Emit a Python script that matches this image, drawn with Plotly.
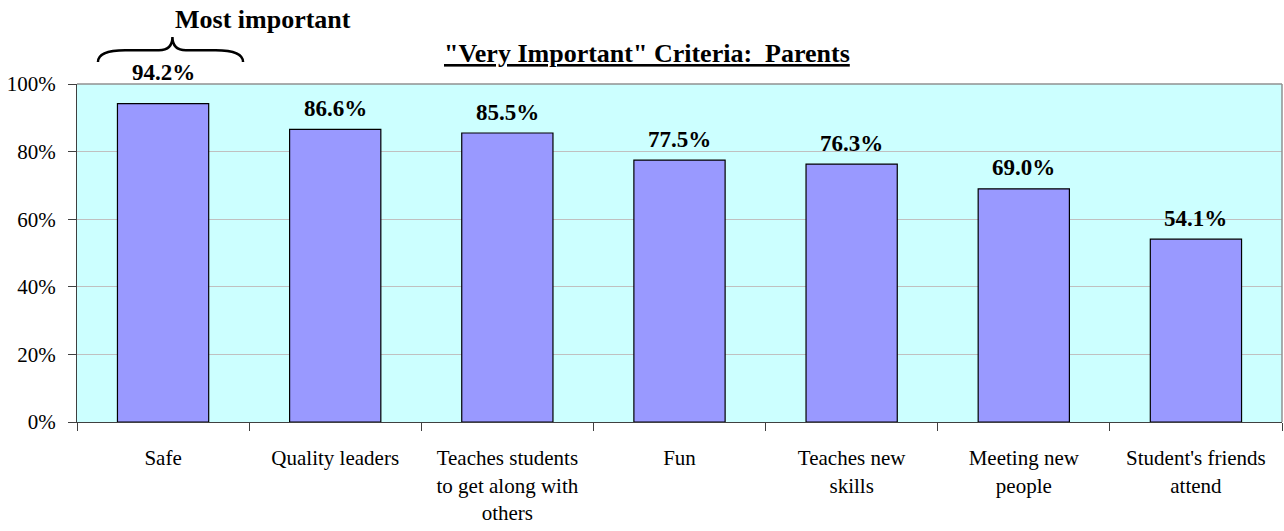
import plotly.graph_objects as go

categories = ["Safe", "Quality leaders", "Teaches students<br>to get along with<br>others", "Fun",
              "Teaches new<br>skills", "Meeting new<br>people", "Student's friends<br>attend"]
values = [94.2, 86.6, 85.5, 77.5, 76.3, 69.0, 54.1]
labels = [f"{v:.1f}%" for v in values]
ytick_vals = [0, 20, 40, 60, 80, 100]
ytick_text = ["0%", "20%", "40%", "60%", "80%", "100%"]

font = "Liberation Serif, Times New Roman, serif"

fig = go.Figure(go.Bar(
    x=categories, y=values,
    marker=dict(color="#9999FF", line=dict(color="black", width=1.2)),
    cliponaxis=False, width=0.53, hoverinfo="skip",
))

annotations = []
for i, (c, v, t) in enumerate(zip(categories, values, labels)):
    annotations.append(dict(
        x=c, y=v, text=f"<b>{t}</b>", showarrow=False, xref="x", yref="y",
        yanchor="middle", yshift=31 if i == 0 else 21,
        font=dict(size=23, color="black"),
    ))

annotations += [
    dict(text='<b><u>"Very Important" Criteria:  Parents</u></b>', xref="paper", yref="paper",
         x=0.473, y=1.089, showarrow=False, font=dict(size=26), yanchor="middle"),
    dict(text="<b>Most important</b>", xref="paper", yref="paper",
         x=0.0797, y=1.19, showarrow=False, font=dict(size=26), yanchor="middle"),
]

fig.update_layout(
    width=1284, height=531,
    margin=dict(l=77, r=2, t=84, b=109),
    paper_bgcolor="white", plot_bgcolor="#CCFFFF",
    font=dict(family=font, size=21, color="black"),
    showlegend=False,
    xaxis=dict(tickson="boundaries", ticks="outside", ticklen=8, tickcolor="#404040",
               showline=True, linecolor="#404040", linewidth=1, mirror=False,
               showgrid=False, tickfont=dict(size=21), automargin=False,
               ticklabelstandoff=17),
    yaxis=dict(range=[0, 100], tickvals=ytick_vals, ticktext=ytick_text,
               ticks="outside", ticklen=8, tickcolor="#404040",
               showline=True, linecolor="#404040", linewidth=1,
               showgrid=True, gridcolor="#C0C0C0", gridwidth=1,
               zeroline=False, tickfont=dict(size=21), automargin=False,
               ticklabelstandoff=8),
    annotations=annotations,
    shapes=[
        dict(type="line", xref="paper", yref="paper", x0=0, x1=1, y0=1, y1=1,
             line=dict(color="#909090", width=1.5)),
        dict(type="line", xref="paper", yref="paper", x0=1, x1=1, y0=0, y1=1,
             line=dict(color="#909090", width=1.5)),
        dict(type="path", xref="paper", yref="paper",
             path="M 0.0174 1.065 Q 0.0174 1.1 0.04 1.1 L 0.0680 1.1 Q 0.0792 1.1 0.0792 1.139 "
                  "Q 0.0792 1.1 0.0904 1.1 L 0.115 1.1 Q 0.1378 1.1 0.1378 1.065",
             line=dict(color="black", width=2.5)),
    ],
)

fig.write_html("out.html", post_script="document.body.style.margin='0px';",
               config={"displayModeBar": False})
